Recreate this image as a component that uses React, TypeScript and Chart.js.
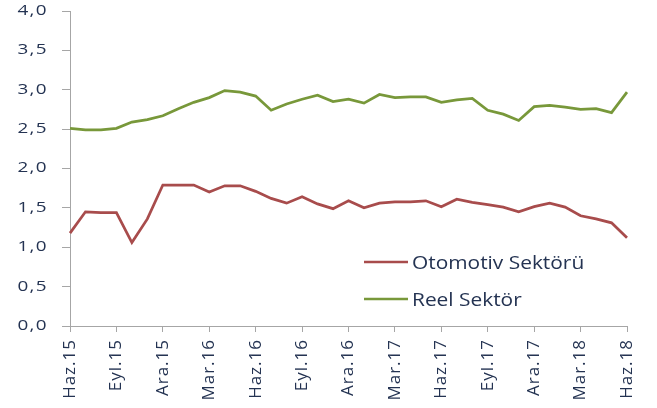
import React, { useEffect, useRef } from "react";
import { Chart, registerables } from "chart.js";

Chart.register(...registerables);

const months: string[] = [
  "Haz.15", "Tem.15", "Ağu.15", "Eyl.15", "Eki.15", "Kas.15", "Ara.15",
  "Oca.16", "Şub.16", "Mar.16", "Nis.16", "May.16", "Haz.16", "Tem.16",
  "Ağu.16", "Eyl.16", "Eki.16", "Kas.16", "Ara.16", "Oca.17", "Şub.17",
  "Mar.17", "Nis.17", "May.17", "Haz.17", "Tem.17", "Ağu.17", "Eyl.17",
  "Eki.17", "Kas.17", "Ara.17", "Oca.18", "Şub.18", "Mar.18", "Nis.18",
  "May.18", "Haz.18",
];

const otomotiv: number[] = [
  1.18, 1.45, 1.44, 1.44, 1.06, 1.36, 1.79, 1.79, 1.79, 1.70, 1.78, 1.78,
  1.71, 1.62, 1.56, 1.64, 1.55, 1.49, 1.59, 1.50, 1.56, 1.575, 1.575, 1.59,
  1.515, 1.61, 1.57, 1.54, 1.51, 1.45, 1.515, 1.56, 1.51, 1.40, 1.36, 1.31,
  1.12,
];

const reel: number[] = [
  2.51, 2.49, 2.49, 2.51, 2.59, 2.62, 2.67, 2.76, 2.84, 2.90, 2.99, 2.97,
  2.92, 2.74, 2.82, 2.88, 2.93, 2.85, 2.88, 2.83, 2.94, 2.90, 2.91, 2.91,
  2.84, 2.87, 2.89, 2.74, 2.69, 2.61, 2.785, 2.80, 2.78, 2.75, 2.76, 2.71,
  2.97,
];

const seriesNames = ["Otomotiv Sektörü", "Reel Sektör"];
const seriesColors = ["#A84C4C", "#78983A"];
const textColor = "#243352";
const axisColor = "#A6A6A6";
const FONT = "'Open Sans', 'Liberation Sans', sans-serif";

// per-axis text styling: letter spacing and horizontal stretch of the labels
const labelStylePlugin = {
  id: "labelStyle",
  afterLayout(chart: any) {
    const xs = chart.scales.x;
    const ys = chart.scales.y;
    if (xs && !xs.__patched) {
      xs.__patched = true;
      const orig = xs.drawLabels;
      xs.drawLabels = function (a: any) {
        const ctx = this.ctx;
        ctx.save();
        ctx.letterSpacing = "1px";
        orig.call(this, a);
        ctx.restore();
      };
    }
    if (ys && !ys.__patched) {
      ys.__patched = true;
      const orig = ys.drawLabels;
      ys.drawLabels = function (a: any) {
        const ctx = this.ctx;
        const ax = this.right - 8 - 14;
        ctx.save();
        ctx.letterSpacing = "1px";
        ctx.translate(ax, 0);
        ctx.scale(1.35, 1);
        ctx.translate(-ax, 0);
        orig.call(this, a);
        ctx.restore();
      };
    }
  },
};

const legendPlugin = {
  id: "insideLegend",
  afterDraw(chart: any) {
    const { ctx, chartArea } = chart;
    const x0 = chartArea.left + 294;
    const ys = [chartArea.top + 251, chartArea.top + 288];
    seriesNames.forEach((name, i) => {
      ctx.save();
      ctx.strokeStyle = seriesColors[i];
      ctx.lineWidth = 2.5;
      ctx.beginPath();
      ctx.moveTo(x0, ys[i]);
      ctx.lineTo(x0 + 44, ys[i]);
      ctx.stroke();
      const tx = x0 + 48;
      ctx.font = `18px ${FONT}`;
      ctx.textBaseline = "alphabetic";
      ctx.textAlign = "left";
      ctx.fillStyle = textColor;
      ctx.translate(tx, 0);
      ctx.scale(1.16, 1);
      ctx.fillText(name, 0, ys[i] + 7);
      ctx.restore();
    });
  },
};

export default function App() {
  const ref = useRef<HTMLCanvasElement | null>(null);
  useEffect(() => {
    if (!ref.current) return;
    const chart = new Chart(ref.current, {
      type: "line",
      data: {
        labels: months,
        datasets: [
          {
            label: seriesNames[0],
            data: otomotiv,
            borderColor: seriesColors[0],
            backgroundColor: seriesColors[0],
            borderWidth: 2.75,
            pointRadius: 0,
            tension: 0,
          },
          {
            label: seriesNames[1],
            data: reel,
            borderColor: seriesColors[1],
            backgroundColor: seriesColors[1],
            borderWidth: 2.75,
            pointRadius: 0,
            tension: 0,
          },
        ],
      },
      options: {
        responsive: false,
        animation: false,
        layout: { padding: { top: 11, right: 30, left: 0, bottom: 0 } },
        plugins: { legend: { display: false }, tooltip: { enabled: false } },
        scales: {
          x: {
            type: "category",
            offset: false,
            border: { color: axisColor, width: 1 },
            grid: {
              drawOnChartArea: false,
              drawTicks: true,
              tickLength: 6,
              tickColor: (c: any) => (c.index % 3 === 0 ? axisColor : "rgba(0,0,0,0)"),
            },
            ticks: {
              autoSkip: false,
              minRotation: 90,
              maxRotation: 90,
              padding: 7,
              color: textColor,
              font: { family: FONT, size: 17 },
              callback: (_v: any, i: number) => (i % 3 === 0 ? months[i] : ""),
            },
            afterFit: (s: any) => {
              s.height = 82;
            },
          },
          y: {
            min: 0,
            max: 4,
            border: { color: axisColor, width: 1 },
            grid: { drawOnChartArea: false, tickLength: 8, tickColor: axisColor },
            ticks: {
              stepSize: 0.5,
              padding: 14,
              autoSkip: false,
              color: textColor,
              font: { family: FONT, size: 14 },
              callback: (v: any) => Number(v).toFixed(1).replace(".", ","),
            },
            afterFit: (s: any) => {
              s.width = 70;
              s.paddingTop = 0;
              s.paddingBottom = 0;
            },
          },
        },
      },
      plugins: [labelStylePlugin, legendPlugin],
    });
    return () => chart.destroy();
  }, []);
  return (
    <div style={{ position: "fixed", left: 0, top: 0, width: 657, height: 408, background: "#fff" }}>
      <canvas ref={ref} width={657} height={408} />
    </div>
  );
}
